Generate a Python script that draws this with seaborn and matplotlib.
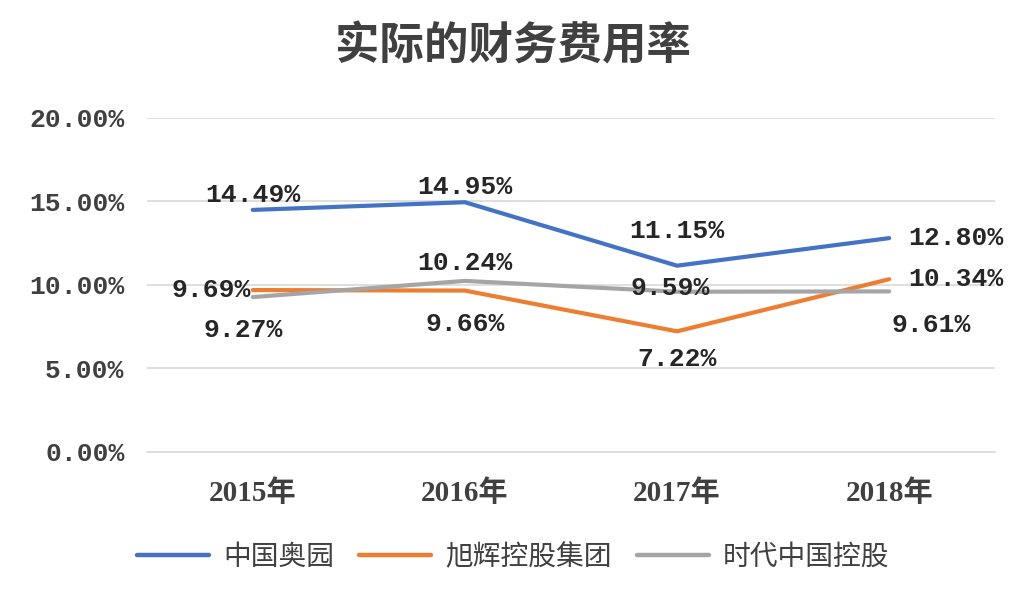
import matplotlib
matplotlib.use("Agg")
import matplotlib.pyplot as plt
import seaborn as sns
import pandas as pd
from matplotlib.ticker import PercentFormatter, MultipleLocator
from matplotlib.lines import Line2D

title = "实际的财务费用率"
years = ["2015年", "2016年", "2017年", "2018年"]
series_names = ["中国奥园", "旭辉控股集团", "时代中国控股"]
aoyuan = [14.49, 14.95, 11.15, 12.80]
xuhui = [9.69, 9.66, 7.22, 10.34]
shidai = [9.27, 10.24, 9.59, 9.61]

colors = ["#4472C4", "#ED7D31", "#A5A5A5"]
# label offsets in points (style only)
offsets = [
    [(0, 11), (0, 11), (0, 25), (48, 0)],
    [(-30, 0), (0, -24), (0, -20), (48, 0)],
    [(-7, -24), (0, 13), (-5, 3), (30, -24)],
]

sns.set_theme(style="white")
plt.rcParams['font.family'] = ['Noto Sans CJK SC', 'DejaVu Sans']

rows = []
for name, vals in zip(series_names, [aoyuan, xuhui, shidai]):
    for i, (y, v) in enumerate(zip(years, vals)):
        rows.append({"年份": y, "x": i, "值": v, "公司": name})
df = pd.DataFrame(rows)

fig = plt.figure(figsize=(10.26, 6.14), dpi=100)
ax = fig.add_axes([0.143, 0.264, 0.827, 0.544])

sns.lineplot(data=df, x="x", y="值", hue="公司", palette=colors, hue_order=series_names,
             linewidth=3.0, sort=False, ax=ax, legend=False)

ax.set_xlim(-0.5, 3.5)
ax.set_ylim(0, 20)
ax.yaxis.set_major_locator(MultipleLocator(5))
ax.yaxis.set_major_formatter(PercentFormatter(100, decimals=2))
ax.set_xticks(range(len(years)))
ax.set_xticklabels(years)
ax.grid(axis="y", color="#D9D9D9", linewidth=1.2)
ax.set_axisbelow(True)
for s in ["top", "right", "left"]:
    ax.spines[s].set_visible(False)
ax.spines["bottom"].set_color("#D9D9D9")
ax.spines["bottom"].set_linewidth(1.2)
ax.set_xlabel("")
ax.set_ylabel("")
ax.tick_params(axis="y", length=0, pad=16)
ax.tick_params(axis="x", length=0, pad=20)
for lab in ax.get_yticklabels():
    lab.set_fontfamily("Liberation Mono")
    lab.set_fontweight("bold")
    lab.set_fontsize(19)
    lab.set_color("#404040")
for lab in ax.get_xticklabels():
    lab.set_fontfamily(["Liberation Serif", "Noto Sans CJK SC"])
    lab.set_fontweight("bold")
    lab.set_fontsize(21)
    lab.set_color("#404040")

for vals, offs in zip([aoyuan, xuhui, shidai], offsets):
    for i, (v, o) in enumerate(zip(vals, offs)):
        ax.annotate(f"{v:.2f}%", (i, v), xytext=o, textcoords="offset points",
                    ha="center", va="center", fontsize=19, fontweight="bold",
                    family="Liberation Mono", color="#262626")

fig.text(0.5, 0.925, title, ha="center", va="center", fontsize=32,
         fontweight="bold", color="#404040")

handles = [Line2D([], [], color=c, linewidth=3.2) for c in colors]
fig.legend(handles, series_names, loc="center", bbox_to_anchor=(0.5, 0.093), ncol=3,
           frameon=False, fontsize=20, handlelength=2.6, columnspacing=0.9,
           handletextpad=0.5, labelcolor="#404040")

fig.savefig("out.png", dpi=100, facecolor="white")
